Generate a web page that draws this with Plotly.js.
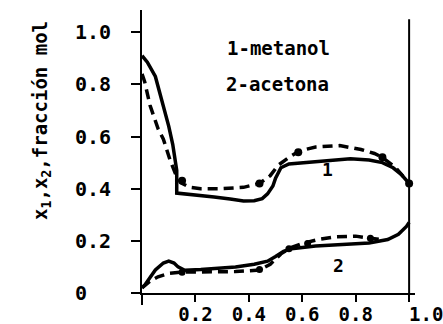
<!DOCTYPE html>
<html>
<head>
<meta charset="utf-8">
<script src="https://cdn.plot.ly/plotly-3.0.1.min.js"></script>
<style>html,body{margin:0;padding:0;background:#fff;}#chart{width:443px;height:324px;}</style>
</head>
<body>
<div id="chart"></div>
<script>
// Curve 1 (metanol), solid line
const x1Solid = [0, 0.02, 0.05, 0.08, 0.10, 0.115, 0.125, 0.13, 0.13, 0.2, 0.27, 0.33, 0.38, 0.42, 0.45, 0.47, 0.49, 0.50, 0.52, 0.55, 0.60, 0.70, 0.78, 0.85, 0.90, 0.94, 0.97, 1.0];
const y1Solid = [0.91, 0.885, 0.83, 0.72, 0.64, 0.57, 0.51, 0.47, 0.383, 0.377, 0.368, 0.36, 0.353, 0.354, 0.362, 0.38, 0.41, 0.44, 0.48, 0.495, 0.50, 0.51, 0.515, 0.51, 0.50, 0.48, 0.455, 0.42];
// Curve 1 (metanol), dashed line
const x1Dash = [0, 0.01, 0.03, 0.06, 0.08, 0.105, 0.13, 0.15, 0.18, 0.22, 0.30, 0.38, 0.44, 0.48, 0.51, 0.55, 0.59, 0.65, 0.74, 0.82, 0.87, 0.90, 0.95, 1.0];
const y1Dash = [0.84, 0.81, 0.72, 0.63, 0.59, 0.51, 0.445, 0.42, 0.405, 0.40, 0.40, 0.405, 0.42, 0.45, 0.49, 0.52, 0.545, 0.56, 0.565, 0.55, 0.535, 0.52, 0.48, 0.42];
// Curve 2 (acetona), solid line
const x2Solid = [0, 0.01, 0.05, 0.08, 0.10, 0.12, 0.135, 0.16, 0.22, 0.28, 0.35, 0.42, 0.47, 0.50, 0.53, 0.56, 0.65, 0.75, 0.85, 0.92, 0.96, 0.99, 1.0];
const y2Solid = [0.02, 0.03, 0.088, 0.115, 0.122, 0.115, 0.10, 0.087, 0.09, 0.095, 0.10, 0.11, 0.122, 0.14, 0.16, 0.17, 0.18, 0.186, 0.192, 0.205, 0.225, 0.255, 0.27];
// Curve 2 (acetona), dashed line
const x2Dash = [0, 0.03, 0.06, 0.10, 0.15, 0.25, 0.35, 0.44, 0.48, 0.52, 0.56, 0.60, 0.66, 0.72, 0.80, 0.855, 0.90];
const y2Dash = [0.02, 0.045, 0.062, 0.075, 0.08, 0.08, 0.082, 0.088, 0.11, 0.15, 0.175, 0.19, 0.205, 0.215, 0.218, 0.21, 0.205];
// Experimental points
const x1Pts = [0.15, 0.44, 0.585, 0.90, 1.0];
const y1Pts = [0.43, 0.42, 0.54, 0.52, 0.42];
const x2Pts = [0.15, 0.44, 0.55, 0.62, 0.855];
const y2Pts = [0.08, 0.09, 0.17, 0.19, 0.21];
// Axis ticks
const xTickVals = [0.2, 0.4, 0.6, 0.8, 1.0];
const xTickText = ["0.2", "0.4", "0.6", "0.8", "\u00a0\u00a0\u00a01.0"];
const yTickVals = [0, 0.2, 0.4, 0.6, 0.8, 1.0];
const yTickText = ["0\u00a0\u00a0", "0.2", "0.4", "0.6", "0.8", "1.0"];

const FONT = "DejaVu Sans Mono";
const lineW = 3.5;
const dashP = "10px,6px";

const traces = [
  {x: x1Solid, y: y1Solid, mode: "lines", line: {color: "#000", width: lineW}, hoverinfo: "skip"},
  {x: x1Dash, y: y1Dash, mode: "lines", line: {color: "#000", width: lineW, dash: dashP}, hoverinfo: "skip"},
  {x: x2Solid, y: y2Solid, mode: "lines", line: {color: "#000", width: lineW}, hoverinfo: "skip"},
  {x: x2Dash, y: y2Dash, mode: "lines", line: {color: "#000", width: lineW, dash: dashP}, hoverinfo: "skip"},
  {x: x1Pts, y: y1Pts, mode: "markers", marker: {color: "#000", size: 8}, cliponaxis: false, hoverinfo: "skip"},
  {x: x2Pts, y: y2Pts, mode: "markers", marker: {color: "#000", size: 7}, cliponaxis: false, hoverinfo: "skip"}
];

const layout = {
  width: 443, height: 324,
  margin: {l: 142, r: 28, t: 10, b: 31},
  paper_bgcolor: "#fff", plot_bgcolor: "#fff",
  showlegend: false,
  font: {family: FONT, color: "#000", size: 19, weight: "bold"},
  xaxis: {
    range: [0, 1.022], showgrid: false, zeroline: false,
    showline: true, linecolor: "#000", linewidth: 2,
    ticks: "outside", ticklen: 7, tickwidth: 2, tickcolor: "#000",
    tickvals: xTickVals, ticktext: xTickText, tickangle: 0,
    tickfont: {family: FONT, size: 19, weight: "bold"},
    ticklabelstandoff: -4, ticklabeloverflow: "allow"
  },
  yaxis: {
    range: [0, 1.085], showgrid: false, zeroline: false,
    showline: true, linecolor: "#000", linewidth: 2,
    ticks: "outside", ticklen: 9, tickwidth: 2, tickcolor: "#000",
    tickvals: yTickVals, ticktext: yTickText,
    tickfont: {family: FONT, size: 20, weight: "bold"},
    ticklabelstandoff: 16
  },
  shapes: [
    {type: "line", xref: "x", yref: "y", x0: 1, x1: 1, y0: 0, y1: 1.05, line: {color: "#000", width: 2}},
    {type: "line", xref: "paper", yref: "paper", x0: 0, x1: 0, y0: 0, y1: -0.042, line: {color: "#000", width: 2}},
    {type: "line", xref: "paper", yref: "paper", x0: -0.018, x1: 0, y0: 0, y1: 0, line: {color: "#000", width: 2}}
  ],
  annotations: [
    {text: "1-metanol", x: 0.51, y: 0.94, xref: "x", yref: "y", showarrow: false, font: {family: FONT, size: 19, weight: "bold"}},
    {text: "2-acetona", x: 0.506, y: 0.80, xref: "x", yref: "y", showarrow: false, font: {family: FONT, size: 19, weight: "bold"}},
    {text: "1", x: 0.693, y: 0.475, xref: "x", yref: "y", showarrow: false, font: {family: FONT, size: 18, weight: "bold"}},
    {text: "2", x: 0.734, y: 0.107, xref: "x", yref: "y", showarrow: false, font: {family: FONT, size: 18, weight: "bold"}},
    {text: "x<sub>1</sub>,x<sub>2</sub>,fracción mol", x: -0.366, y: 0.608, xref: "paper", yref: "paper",
     xanchor: "center", yanchor: "middle", textangle: -90, showarrow: false,
     font: {family: FONT, size: 19, weight: "bold"}}
  ]
};

Plotly.newPlot("chart", traces, layout, {staticPlot: true, displayModeBar: false});
</script>
</body>
</html>
